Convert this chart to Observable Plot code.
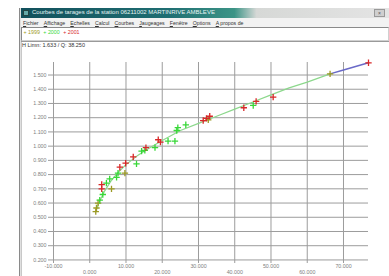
<!DOCTYPE html>
<html>
<head>
<meta charset="utf-8">
<script src="https://cdn.jsdelivr.net/npm/d3@7"></script>
<script src="https://cdn.jsdelivr.net/npm/@observablehq/plot@0.6"></script>
<style>
  html, body { margin:0; padding:0; }
  body { width:389px; height:276px; overflow:hidden; background:#fff; position:relative; font-family:"Liberation Sans", Arial, sans-serif; }
  #chart { position:absolute; left:0; top:0; }
  .abs { position:absolute; }
  #leftborder { left:19px; top:8px; width:1px; height:268px; border-left:1px solid #8a8a8a; border-right:1px solid #c8c8c8; background:#e0e0e0; }
  #titlebar { left:21px; top:8px; width:368px; height:10px; background:linear-gradient(to right,#12505c 0%,#1f6e72 40%,#3c9486 58%,#d6d8d6 64%,#e4e4e4 100%); }
  #titlebar .icon { position:absolute; left:2px; top:2px; width:6px; height:6px; background:#6aa; border:1px solid #244; box-sizing:border-box; }
  #titlebar .txt { position:absolute; left:11px; top:1px; font-size:6px; color:#e6f4f4; white-space:nowrap; }
  #titlebar .close { position:absolute; right:4px; top:1px; width:11px; height:8px; background:#cfcfcf; border:1px solid #999; box-sizing:border-box; font-size:5px; line-height:6px; text-align:center; color:#555; }
  #menubar { left:21px; top:18px; width:368px; height:9px; background:#f2f2f2; font-size:5.2px; color:#333; white-space:nowrap; }
  #menubar span { margin-left:2px; margin-right:3.1px; display:inline-block; margin-top:1.5px; }
  #legendbox { left:21px; top:27px; width:366px; height:12px; background:#fff; border-top:1px solid #8a8a8a; border-left:1px solid #8a8a8a; border-bottom:1px solid #d0d0d0; border-right:1px solid #d0d0d0; font-size:5.3px; white-space:nowrap; }
  #legendbox span { display:inline-block; margin-top:1px; margin-right:2px; }
  #sep { left:21px; top:41px; width:368px; height:1px; background:#9a9a9a; }
  #hinfo { left:22px; top:42px; font-size:5.5px; color:#333; white-space:nowrap; }
</style>
</head>
<body>
<div id="chart"></div>
<div id="leftborder" class="abs"></div>
<div id="titlebar" class="abs"><div class="icon"></div><div class="txt">Courbes de tarages de la station 06211002 MARTINRIVE AMBLEVE</div><div class="close">×</div></div>
<div id="menubar" class="abs"></div>
<div id="legendbox" class="abs"></div>
<div id="sep" class="abs"></div>
<div id="hinfo" class="abs">H Limn: 1.633 / Q: 38.250</div>
<script>
// ---- data (Q = discharge, H = stage) ----
const menuItems = ["Fichier","Affichage","Echelles","Calcul","Courbes","Jaugeages","Fenêtre","Options","A propos de"];
const years = ["1999","2000","2001"];
const yearColors = ["#9c9a24","#38d838","#d82828"];

const q1999 = [1660, 1850, 2300, 6000, 9700, 32700, 66300];
const h1999 = [0.54, 0.565, 0.60, 0.70, 0.81, 1.185, 1.508];

const q2000 = [2760, 3600, 4600, 5500, 7400, 7800, 12900, 14300, 15200, 18000, 21600, 23500, 24000, 24300, 26500, 45100];
const h2000 = [0.62, 0.66, 0.74, 0.77, 0.78, 0.81, 0.875, 0.965, 0.97, 0.99, 1.035, 1.035, 1.11, 1.13, 1.15, 1.286];

const q2001 = [3300, 3300, 8300, 9900, 12000, 15500, 18900, 19500, 31300, 32200, 33100, 42500, 45900, 50600, 76900];
const h2001 = [0.73, 0.70, 0.852, 0.88, 0.925, 0.99, 1.045, 1.028, 1.18, 1.195, 1.21, 1.27, 1.315, 1.345, 1.586];

// rating curve
const curveQ = [1660, 2500, 4000, 6000, 8000, 10000, 13000, 16000, 20000, 25000, 30000, 35000, 40000, 45000, 50000, 55000, 60000, 66300];
const curveH = [0.54, 0.60, 0.68, 0.76, 0.82, 0.87, 0.93, 0.98, 1.04, 1.11, 1.16, 1.21, 1.26, 1.31, 1.36, 1.41, 1.45, 1.508];
// extrapolated part (blue)
const extQ = [66300, 70000, 76900];
const extH = [1.508, 1.535, 1.586];

const xTicks = [-10000, 0, 10000, 20000, 30000, 40000, 50000, 60000, 70000];
const xTickLabels = ["-10.000","0.000","10.000","20.000","30.000","40.000","50.000","60.000","70.000"];
const yTicks = [0.2,0.3,0.4,0.5,0.6,0.7,0.8,0.9,1.0,1.1,1.2,1.3,1.4,1.5];
const yTickLabels = ["0.200","0.300","0.400","0.500","0.600","0.700","0.800","0.900","1.000","1.100","1.200","1.300","1.400","1.500"];

// ---- chrome ----
document.getElementById("menubar").innerHTML = menuItems.map(m => `<span><u>${m[0]}</u>${m.slice(1)}</span>`).join("");
document.getElementById("legendbox").innerHTML = "&nbsp;" + years.map((y,i) => `<span style="color:${yearColors[i]}">+ ${y}</span>`).join(" ");

// ---- build tables ----
const pts = [];
[[q1999,h1999],[q2000,h2000],[q2001,h2001]].forEach(([qs,hs],i) => qs.forEach((q,j) => pts.push({Q:q, H:hs[j], year:years[i]})));
const curve = curveQ.map((q,i) => ({Q:q, H:curveH[i]}));
const ext = extQ.map((q,i) => ({Q:q, H:extH[i]}));
const upperTicks = xTicks.filter((d,i) => i % 2 === 0);
const lowerTicks = xTicks.filter((d,i) => i % 2 === 1);
const xfmt = d => xTickLabels[xTicks.indexOf(d)];
const yfmt = d => yTickLabels[yTicks.indexOf(d)];

const chart = Plot.plot({
  width: 389,
  height: 276,
  marginTop: 62,
  marginBottom: 13,
  marginLeft: 53,
  marginRight: 21,
  style: {background: "transparent", fontFamily: "Liberation Sans, Arial, sans-serif"},
  x: {domain: [-10000, 76900], label: null},
  y: {domain: [0.175, 1.588], label: null},
  color: {domain: years, range: yearColors},
  marks: [
    Plot.ruleY(yTicks, {stroke: "#9c9c9c", strokeWidth: 1, strokeOpacity: 1}),
    Plot.ruleX(xTicks, {stroke: "#9c9c9c", strokeWidth: 1, strokeOpacity: 1}),
    Plot.axisY(yTicks, {tickSize: 5, tickPadding: 2, tickFormat: yfmt, fontSize: 5.3, color: "#808080", stroke: "#9c9c9c", label: null}),
    Plot.axisX(upperTicks, {tickSize: 0, tickPadding: 1, tickFormat: xfmt, fontSize: 5.3, color: "#808080", label: null}),
    Plot.axisX(lowerTicks, {tickSize: 0, tickPadding: 7, tickFormat: xfmt, fontSize: 5.3, color: "#808080", label: null}),
    Plot.line(curve, {x: "Q", y: "H", stroke: "#8cd88c", strokeWidth: 1.2}),
    Plot.line(ext, {x: "Q", y: "H", stroke: "#6a6ac8", strokeWidth: 1.5}),
    Plot.dot(pts, {x: "Q", y: "H", symbol: "plus", stroke: "year", r: 2.2, strokeWidth: 1.3})
  ]
});
document.getElementById("chart").appendChild(chart);
</script>
</body>
</html>
